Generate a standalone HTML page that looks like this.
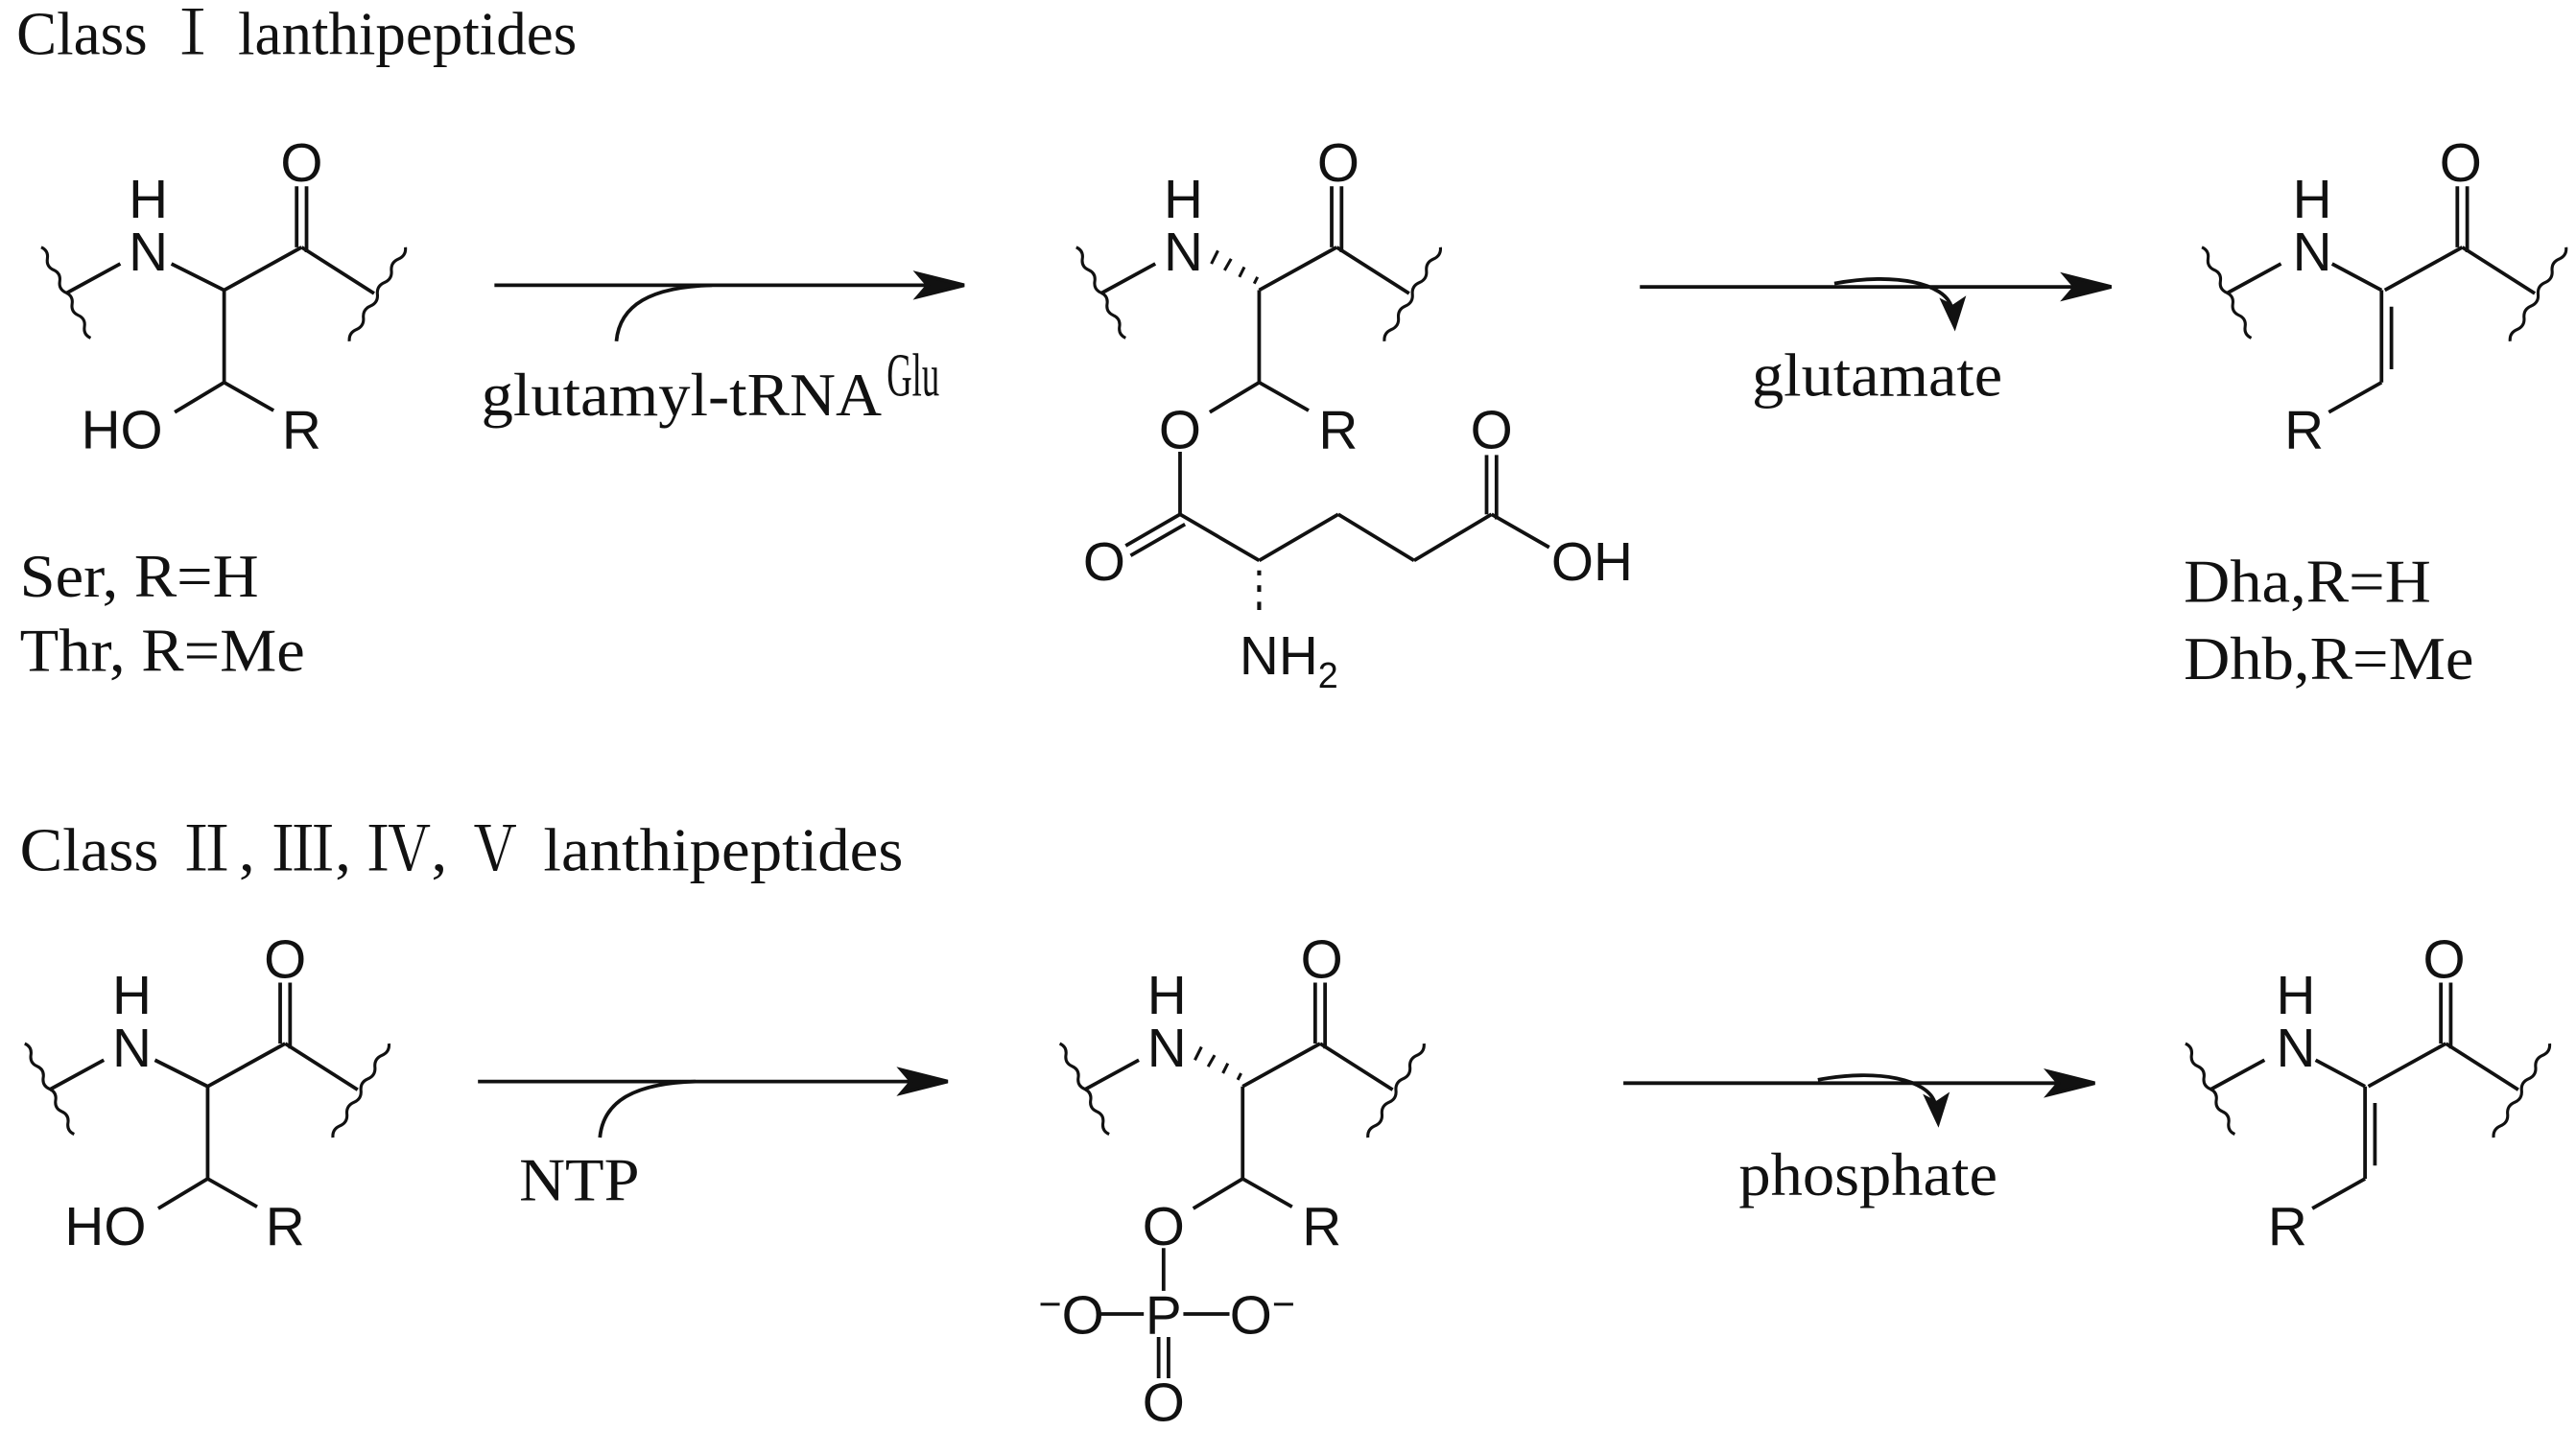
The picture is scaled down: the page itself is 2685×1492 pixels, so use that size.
<!DOCTYPE html>
<html><head><meta charset="utf-8"><style>
html,body{margin:0;padding:0;background:#fff;}
svg{display:block;}
text{stroke:none;font-weight:400;}
.a{font-family:"Liberation Sans",sans-serif;font-size:33px;text-anchor:middle;fill:#111;}
.s{font-family:"Liberation Serif","Noto Serif CJK SC",serif;font-size:37px;fill:#111;}
</style></head><body>
<svg width="2685" height="1492" viewBox="0 0 1563 868" preserveAspectRatio="none" xmlns="http://www.w3.org/2000/svg">
<defs>
<g id="wl"><path d="M25 150 q4.5 2 3.75 6.875 t3.75 6.875 t3.75 6.875 t3.75 6.875 t3.75 6.875 t3.75 6.875 t3.75 6.875 t3.75 6.875" fill="none" stroke="#111" stroke-width="1.8"/></g>
<g id="wr"><path d="M246 150 q0.5 5.1 -4.25 7.125 t-4.25 7.125 t-4.25 7.125 t-4.25 7.125 t-4.25 7.125 t-4.25 7.125 t-4.25 7.125 t-4.25 7.125" fill="none" stroke="#111" stroke-width="1.8"/></g>
<g id="bb">
<use href="#wl"/><use href="#wr"/>
<line x1="40" y1="178" x2="73" y2="160"/>
<line x1="136" y1="176" x2="183" y2="150"/>
<line x1="180" y1="150" x2="180" y2="113"/>
<line x1="186" y1="153" x2="186" y2="113"/>
<line x1="183" y1="150" x2="227" y2="178"/>
</g>
<polygon id="ah" points="0,0 -28,-7 -22,0 -28,7" fill="#111"/>
</defs>

<text class="s" x="10" y="33" textLength="340" lengthAdjust="spacingAndGlyphs">Class Ⅰ lanthipeptides</text>
<text class="s" x="12" y="528" textLength="536" lengthAdjust="spacingAndGlyphs">Class Ⅱ, Ⅲ, Ⅳ, Ⅴ lanthipeptides</text>

<g stroke="#111" stroke-width="2.2" fill="none">
<g>
 <use href="#bb"/>
 <line x1="104" y1="160" x2="136" y2="176"/>
 <line x1="136" y1="176" x2="136" y2="232"/>
 <line x1="136" y1="232" x2="106" y2="250"/>
 <line x1="136" y1="232" x2="166" y2="249"/>
 <g transform="translate(628,0)">
  <use href="#bb"/>
  <line x1="136" y1="176" x2="136" y2="232"/>
  <line x1="136" y1="232" x2="106" y2="250"/>
  <line x1="136" y1="232" x2="166" y2="249"/>
 </g>
 <g stroke-width="1.8">
  <line x1="761" y1="172" x2="763" y2="168"/><line x1="752" y1="168" x2="755" y2="162"/><line x1="743" y1="164" x2="747" y2="157"/><line x1="735" y1="160" x2="739" y2="152"/>
 </g>
 <line x1="716" y1="274" x2="716" y2="312"/>
 <line x1="716" y1="312" x2="683" y2="331"/>
 <line x1="719" y1="318" x2="686" y2="337"/>
 <line x1="716" y1="312" x2="764" y2="340"/>
 <line x1="764" y1="340" x2="812" y2="312"/>
 <line x1="812" y1="312" x2="858" y2="340"/>
 <line x1="858" y1="340" x2="905" y2="312"/>
 <line x1="902" y1="312" x2="902" y2="276"/>
 <line x1="908" y1="315" x2="908" y2="276"/>
 <line x1="905" y1="312" x2="940" y2="332"/>
 <g stroke-width="2.4"><line x1="764" y1="346" x2="764" y2="349"/><line x1="764" y1="355" x2="764" y2="359"/><line x1="764" y1="365" x2="764" y2="370"/></g>
 <g transform="translate(1311,0)">
  <use href="#bb"/>
  <line x1="104" y1="160" x2="134" y2="176"/>
  <line x1="134" y1="176" x2="134" y2="232"/>
  <line x1="140" y1="186" x2="140" y2="224"/>
  <line x1="134" y1="232" x2="102" y2="250"/>
 </g>
 <line x1="300" y1="173" x2="565" y2="173"/>
 <path d="M374 207 C376 185 395 174 432 173"/>
 <line x1="995" y1="174" x2="1262" y2="174"/>
 <path d="M1113 172 C1150 165 1180 172 1184 186"/>
</g>
<use href="#ah" x="585" y="173"/>
<use href="#ah" x="1281" y="174"/>
<polygon points="1186,198 1179,183 1185,186 1191,182" fill="#111"/>

<g>
<text class="a" x="90" y="132">H</text><text class="a" x="90" y="164">N</text>
<text class="a" x="183" y="110">O</text><text class="a" x="74" y="272">HO</text><text class="a" x="183" y="272">R</text>
<text class="a" x="718" y="132">H</text><text class="a" x="718" y="164">N</text>
<text class="a" x="812" y="110">O</text><text class="a" x="716" y="272">O</text><text class="a" x="812" y="272">R</text>
<text class="a" x="670" y="352">O</text><text class="a" x="905" y="272">O</text><text class="a" x="966" y="352">OH</text>
<text class="a" x="782" y="409">NH<tspan font-size="22" dy="8">2</tspan></text>
<text class="a" x="1403" y="132">H</text><text class="a" x="1403" y="164">N</text>
<text class="a" x="1493" y="110">O</text><text class="a" x="1398" y="272">R</text>
</g>
<text class="s" x="12" y="362" textLength="145" lengthAdjust="spacingAndGlyphs">Ser, R=H</text>
<text class="s" x="12" y="407" textLength="173" lengthAdjust="spacingAndGlyphs">Thr, R=Me</text>
<text class="s" x="292" y="252" textLength="243" lengthAdjust="spacingAndGlyphs">glutamyl-tRNA</text>
<text class="s" x="538" y="240" font-size="21" textLength="32" lengthAdjust="spacingAndGlyphs">Glu</text>
<text class="s" x="1063" y="240" textLength="152" lengthAdjust="spacingAndGlyphs">glutamate</text>
<text class="s" x="1325" y="365" textLength="150" lengthAdjust="spacingAndGlyphs">Dha,R=H</text>
<text class="s" x="1325" y="412" textLength="176" lengthAdjust="spacingAndGlyphs">Dhb,R=Me</text>

<g transform="translate(-10,483)">
<g stroke="#111" stroke-width="2.2" fill="none">
 <use href="#bb"/>
 <line x1="104" y1="160" x2="136" y2="176"/>
 <line x1="136" y1="176" x2="136" y2="232"/>
 <line x1="136" y1="232" x2="106" y2="250"/>
 <line x1="136" y1="232" x2="166" y2="249"/>
 <g transform="translate(628,0)">
  <use href="#bb"/>
  <line x1="136" y1="176" x2="136" y2="232"/>
  <line x1="136" y1="232" x2="106" y2="250"/>
  <line x1="136" y1="232" x2="166" y2="249"/>
 </g>
 <g stroke-width="1.8">
  <line x1="761" y1="172" x2="763" y2="168"/><line x1="752" y1="168" x2="755" y2="162"/><line x1="743" y1="164" x2="747" y2="157"/><line x1="735" y1="160" x2="739" y2="152"/>
 </g>
 <line x1="716" y1="274" x2="716" y2="300"/>
 <line x1="676" y1="314" x2="704" y2="314"/>
 <line x1="728" y1="314" x2="756" y2="314"/>
 <line x1="713" y1="328" x2="713" y2="353"/>
 <line x1="719" y1="328" x2="719" y2="353"/>
 <g transform="translate(1311,0)">
  <use href="#bb"/>
  <line x1="104" y1="160" x2="134" y2="176"/>
  <line x1="134" y1="176" x2="134" y2="232"/>
  <line x1="140" y1="186" x2="140" y2="224"/>
  <line x1="134" y1="232" x2="102" y2="250"/>
 </g>
 <line x1="300" y1="173" x2="565" y2="173"/>
 <path d="M374 207 C376 185 395 174 432 173"/>
 <line x1="995" y1="174" x2="1262" y2="174"/>
 <path d="M1113 172 C1150 165 1180 172 1184 186"/>
</g>
<use href="#ah" x="585" y="173"/>
<use href="#ah" x="1281" y="174"/>
<polygon points="1186,198 1179,183 1185,186 1191,182" fill="#111"/>
<text class="a" x="90" y="132">H</text><text class="a" x="90" y="164">N</text>
<text class="a" x="183" y="110">O</text><text class="a" x="74" y="272">HO</text><text class="a" x="183" y="272">R</text>
<text class="a" x="718" y="132">H</text><text class="a" x="718" y="164">N</text>
<text class="a" x="812" y="110">O</text><text class="a" x="716" y="272">O</text><text class="a" x="812" y="272">R</text>
<text class="a" x="716" y="326">P</text>
<text class="a" x="660" y="326"><tspan font-size="24" dy="-10">−</tspan><tspan dy="10">O</tspan></text>
<text class="a" x="776" y="326">O<tspan font-size="24" dy="-10">−</tspan></text>
<text class="a" x="716" y="379">O</text>
<text class="a" x="1403" y="132">H</text><text class="a" x="1403" y="164">N</text>
<text class="a" x="1493" y="110">O</text><text class="a" x="1398" y="272">R</text>
</g>
<text class="s" x="315" y="728" textLength="73" lengthAdjust="spacingAndGlyphs">NTP</text>
<text class="s" x="1055" y="725" textLength="157" lengthAdjust="spacingAndGlyphs">phosphate</text>
</svg>
</body></html>
